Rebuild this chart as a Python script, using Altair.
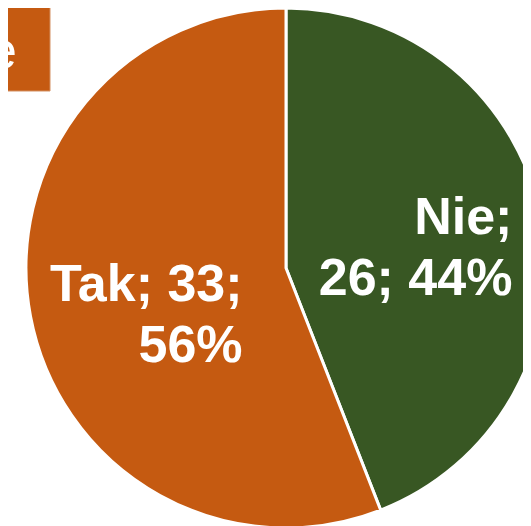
import altair as alt
import pandas as pd

categories = ["Nie", "Tak"]
counts = [26, 33]
percents = ["44%", "56%"]
labels = ["Nie;\n26; 44%", "Tak; 33;\n56%"]
order = [1, 2]
colors = ["#385723", "#C55A11"]
box_text = ["e"]

df = pd.DataFrame({"cat": categories, "count": counts, "pct": percents,
                   "label": labels, "order": order})

theta_scale = alt.Scale(domain=[0, sum(counts)])

pie = alt.Chart(df).mark_arc(stroke="white", strokeWidth=3, outerRadius=260).encode(
    theta=alt.Theta("count:Q", stack=True, scale=theta_scale),
    order=alt.Order("order:Q"),
    color=alt.Color("cat:N", scale=alt.Scale(domain=categories, range=colors), legend=None),
    x=alt.value(278), y=alt.value(260),
)

lab_base = alt.Chart(df).transform_window(
    cum="sum(count)", sort=[alt.SortField("order")]
).transform_calculate(mid="datum.cum - datum.count / 2")

def label_layer(cat, dx, dy):
    return lab_base.transform_filter(alt.datum.cat == cat).mark_text(
        radius=150, align="right", baseline="middle", dx=dx, dy=dy,
        fontSize=52, fontWeight="bold", font="Liberation Sans",
        color="white", lineBreak="\n", lineHeight=61,
    ).encode(
        theta=alt.Theta("mid:Q", stack=None, scale=theta_scale),
        text="label:N",
        x=alt.value(278), y=alt.value(260),
    )

lab_nie = label_layer("Nie", 79, -22)
lab_tak = label_layer("Tak", 104, -11)

box = alt.Chart(pd.DataFrame({"t": box_text})).mark_rect(
    color="#C55A11", stroke="#d39063", strokeWidth=1
).encode(x=alt.value(-10), x2=alt.value(42), y=alt.value(-5), y2=alt.value(83))

box_txt = alt.Chart(pd.DataFrame({"t": box_text})).mark_text(
    align="right", baseline="alphabetic", fontSize=52, font="Liberation Sans",
    color="white"
).encode(text="t:N", x=alt.value(9), y=alt.value(60))

chart = alt.layer(pie, lab_nie, lab_tak, box, box_txt).properties(
    width=515, height=518, padding=0, autosize=alt.AutoSizeParams(type="none")
).configure_view(stroke=None)

chart.save("out.html", embed_options={"renderer": "svg", "actions": False})
